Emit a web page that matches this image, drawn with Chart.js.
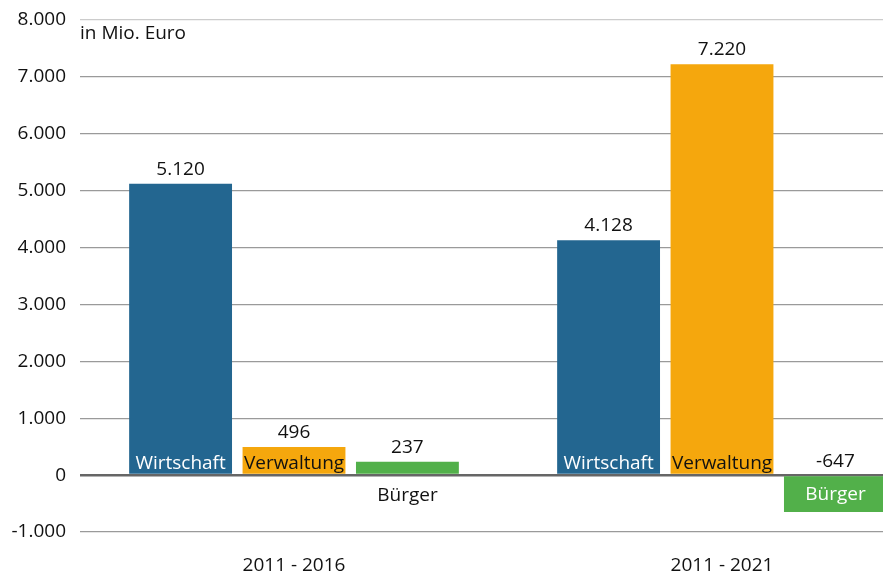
<!DOCTYPE html>
<html><head><meta charset="utf-8">
<script src="https://cdn.jsdelivr.net/npm/chart.js@4"></script>
<style>
html,body{margin:0;padding:0;background:#fff;overflow:hidden;width:883px;height:572px;}
#wrap{position:relative;width:936px;height:572px;}
</style></head>
<body><div id="wrap"><canvas id="c"></canvas></div>
<script>
const categories = ["2011 - 2016", "2011 - 2021"];
const seriesNames = ["Wirtschaft", "Verwaltung", "Bürger"];
const wirtschaft = [5120, 4128];
const verwaltung = [496, 7220];
const buerger = [237, -647];
const yTicks = [-1000, 0, 1000, 2000, 3000, 4000, 5000, 6000, 7000, 8000];
const unitLabel = "in Mio. Euro";

const colors = ["#236690", "#f5a70d", "#52b04a"];
const insideTextColors = ["#ffffff", "#111111", "#ffffff"];
const FONT = "'Open Sans', sans-serif";
const FS = 19;

function fmt(v){
  const s = Math.abs(v).toString().replace(/\B(?=(\d{3})+(?!\d))/g, ".");
  return (v < 0 ? "-" : "") + s;
}

const labelPlugin = {
  id: "labels",
  afterDatasetsDraw(chart){
    const ctx = chart.ctx;
    const y = chart.scales.y;
    const zeroY = y.getPixelForValue(0);
    ctx.save();
    ctx.font = FS + "px " + FONT;
    ctx.textAlign = "center";
    ctx.textBaseline = "alphabetic";
    chart.data.datasets.forEach((ds, di) => {
      const meta = chart.getDatasetMeta(di);
      meta.data.forEach((bar, i) => {
        const v = ds.data[i];
        const x = bar.x;
        ctx.fillStyle = "#111";
        if (v >= 0) ctx.fillText(fmt(v), x, bar.y - 9);
        else ctx.fillText(fmt(v), x, zeroY - 8);
        const h = Math.abs(zeroY - bar.y);
        if (v >= 0) {
          if (h >= 24) {
            ctx.fillStyle = insideTextColors[di];
            ctx.fillText(ds.label, x, zeroY - 6);
          } else {
            ctx.fillStyle = "#111";
            ctx.fillText(ds.label, x, zeroY + 26);
          }
        } else {
          ctx.fillStyle = insideTextColors[di];
          ctx.fillText(ds.label, x, zeroY + 25);
        }
      });
    });
    ctx.fillStyle = "#111";
    ctx.textAlign = "left";
    ctx.fillText(unitLabel, chart.chartArea.left, chart.chartArea.top + 19);
    ctx.restore();
  }
};

new Chart(document.getElementById("c"), {
  type: "bar",
  data: {
    labels: categories,
    datasets: [
      {label: seriesNames[0], data: wirtschaft, backgroundColor: colors[0]},
      {label: seriesNames[1], data: verwaltung, backgroundColor: colors[1]},
      {label: seriesNames[2], data: buerger, backgroundColor: colors[2]}
    ]
  },
  options: {
    responsive: true,
    maintainAspectRatio: false,
    animation: false,
    datasets: {bar: {categoryPercentage: 0.795, barPercentage: 0.907, borderWidth: 0}},
    layout: {padding: {top: 20, right: 0, left: 0, bottom: 0}},
    plugins: {legend: {display: false}, tooltip: {enabled: false}},
    scales: {
      x: {
        grid: {display: false},
        border: {display: false},
        afterFit(scale){ scale.height = 40; },
        ticks: {color: "#111", font: {family: FONT, size: FS}, padding: 14}
      },
      y: {
        min: -1000, max: 8000,
        afterBuildTicks(scale){ scale.ticks = yTicks.map(v => ({value: v})); },
        afterFit(scale){ scale.width = 80; scale.paddingTop = 0; scale.paddingBottom = 0; },
        border: {display: false},
        grid: {
          drawTicks: false,
          color: c => c.tick && c.tick.value === 0 ? "#666" : (c.tick && c.tick.value === 8000 ? "#ccc" : "#9a9a9a"),
          lineWidth: c => c.tick && c.tick.value === 0 ? 2.5 : 1.2
        },
        ticks: {
          color: "#111", font: {family: FONT, size: FS}, padding: 14,
          callback: v => fmt(v)
        }
      }
    }
  },
  plugins: [labelPlugin]
});
</script>
</body></html>
